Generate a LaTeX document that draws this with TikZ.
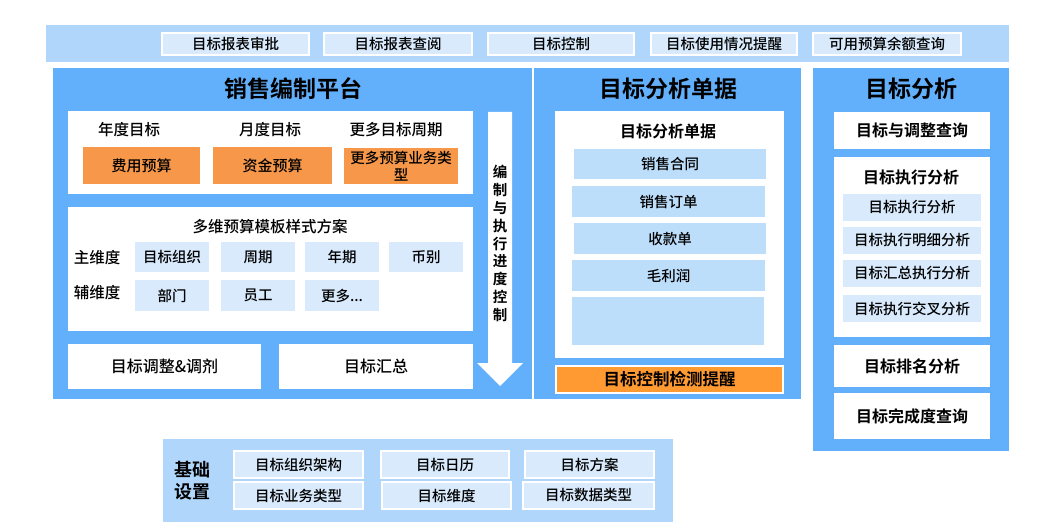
\documentclass[tikz,border=0pt]{standalone}
\usepackage{fontspec}
\setmainfont{Noto Sans CJK SC Medium}[BoldFont={Noto Sans CJK SC Bold}]
\definecolor{panel}{HTML}{62B0FC}
\definecolor{barc}{HTML}{B0D7FB}
\definecolor{lite}{HTML}{D8EAFC}
\definecolor{itemc}{HTML}{BDDEFB}
\definecolor{orng}{HTML}{F7974A}
\definecolor{orng2}{HTML}{FF9A33}
% \bx{style}{name}{x1}{y1}{x2}{y2}{text}
\newcommand\bx[7]{\node[#1,minimum width={(#5)-(#3)},minimum height={(#6)-(#4)}] (#2) at ({((#3)+(#5))/2},{((#4)+(#6))/2}) {#7};}
\begin{document}
\begin{tikzpicture}[x=1pt,y=-1pt,
  every node/.style={inner sep=0pt,outer sep=0pt,text=black},
  fs/.style={font=\fontsize{#1}{#1}\selectfont},
  fb/.style={font=\fontsize{#1}{#1}\selectfont\bfseries},
  barbg/.style={fill=barc},
  pan/.style={fill=panel},
  btn/.style={fill=lite,draw=white,line width=1.6pt,fs=14.5},
  wbox/.style={fill=white},
  lbox/.style={fill=lite,fs=14.5},
  ibox/.style={fill=itemc,fs=14.5},
  obox/.style={fill=orng,fs=15,align=center},
  ttl/.style={fb=23},
  lbl/.style={fs=15.5}
]
\useasboundingbox (0,0) rectangle (1038,532);
% top bar
\bx{barbg}{topbar}{46}{25}{1009}{62}{}
\bx{btn}{t1}{162}{33}{309}{55}{目标报表审批}
\bx{btn}{t2}{324}{33}{472}{55}{目标报表查阅}
\bx{btn}{t3}{488}{33}{634}{55}{目标控制}
\bx{btn}{t4}{651}{33}{797}{55}{目标使用情况提醒}
\bx{btn}{t5}{813}{33}{961}{55}{可用预算余额查询}
% panels
\bx{pan}{p1}{53}{68}{532}{399}{}
\bx{pan}{p2}{534}{68}{801}{399}{}
\bx{pan}{p3}{813}{68}{1009}{451}{}
\node[ttl] (p1t) at (293,89) {销售编制平台};
\node[ttl] (p2t) at (668,89) {目标分析单据};
\node[ttl] (p3t) at (911,89) {目标分析};
% panel 1
\bx{wbox}{w1}{68}{111}{473}{194}{}
\node[lbl] (l1) at (129,130) {年度目标};
\node[lbl] (l2) at (270,130) {月度目标};
\node[lbl] (l3) at (396,130) {更多目标周期};
\bx{obox}{o1}{83}{147}{200}{184}{费用预算}
\bx{obox}{o2}{213}{147}{332}{184}{资金预算}
\bx{obox,font=\fontsize{14.5}{17}\selectfont}{o3}{344}{148}{458}{184}{更多预算业务类\\型}
\bx{wbox}{w2}{68}{207}{473}{331}{}
\node[lbl] (w2t) at (270,227) {多维预算模板样式方案};
\node[lbl] (md) at (97,258) {主维度};
\node[lbl] (ad) at (97,293) {辅维度};
\bx{lbox}{m1}{135}{242}{209}{272}{目标组织}
\bx{lbox}{m2}{221}{242}{295}{272}{周期}
\bx{lbox}{m3}{305}{242}{379}{272}{年期}
\bx{lbox}{m4}{389}{242}{463}{272}{币别}
\bx{lbox}{a1}{135}{280}{209}{311}{部门}
\bx{lbox}{a2}{221}{280}{295}{311}{员工}
\bx{lbox}{a3}{305}{280}{379}{311}{更多...}
\bx{wbox,fs=16}{w3}{68}{344}{261}{389}{目标调整\&调剂}
\bx{wbox,fs=16}{w4}{279}{344}{473}{389}{目标汇总}
\fill[white] (488,112) -- (512,112) -- (512,363) -- (523,363) -- (500,386) -- (477,363) -- (488,363) -- cycle;
\node[font=\fontsize{14.5}{17.9}\selectfont\bfseries,align=center] (vt) at (500,243.5)
  {编\\制\\与\\执\\行\\进\\度\\控\\制};
% panel 2
\bx{wbox}{w5}{555}{111}{784}{358}{}
\node[fb=16] (w5t) at (668,131) {目标分析单据};
\bx{ibox}{d1}{574}{149}{766}{179}{销售合同}
\bx{ibox}{d2}{572}{186}{765}{217}{销售订单}
\bx{ibox}{d3}{574}{223}{766}{254}{收款单}
\bx{ibox}{d4}{572}{260}{765}{291}{毛利润}
\bx{ibox}{d5}{572}{297}{764}{345}{}
\bx{fill=orng2,draw=white,line width=1.6pt,fb=16.5}{d6}{556}{366}{783}{393}{目标控制检测提醒}
% panel 3
\bx{wbox,fb=16}{g1}{834}{112}{990}{149}{目标与调整查询}
\bx{wbox}{g2}{834}{157}{990}{337}{}
\node[fb=16] (g2t) at (911,177) {目标执行分析};
\bx{lbox}{e1}{843}{194}{981}{221}{目标执行分析}
\bx{lbox}{e2}{843}{227}{981}{254}{目标执行明细分析}
\bx{lbox}{e3}{843}{260}{981}{287}{目标汇总执行分析}
\bx{lbox}{e4}{843}{295}{981}{322}{目标执行交叉分析}
\bx{wbox,fb=16}{g3}{834}{345}{990}{387}{目标排名分析}
\bx{wbox,fb=16}{g4}{834}{393}{990}{439}{目标完成度查询}
% bottom bar
\bx{barbg}{bot}{163}{439}{673}{522}{}
\node[align=center,font=\fontsize{18}{22}\selectfont\bfseries] (bt) at (192,481) {基础\\设置};
\bx{btn}{b1}{234}{451}{363}{478}{目标组织架构}
\bx{btn}{b2}{381}{451}{509}{478}{目标日历}
\bx{btn}{b3}{525}{451}{654}{478}{目标方案}
\bx{btn}{b4}{234}{482}{363}{509}{目标业务类型}
\bx{btn}{b5}{382}{482}{511}{509}{目标维度}
\bx{btn}{b6}{523}{482}{654}{509}{目标数据类型}
\end{tikzpicture}
\end{document}
